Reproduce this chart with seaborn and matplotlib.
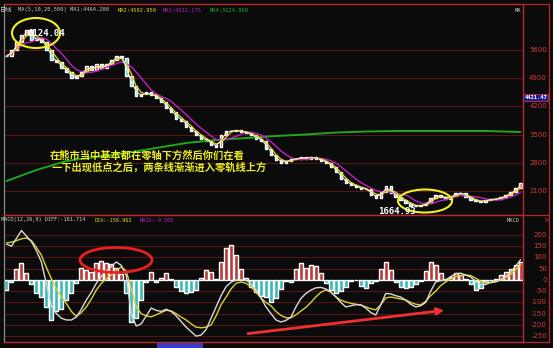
import numpy as np
import pandas as pd
import matplotlib
matplotlib.use("Agg")
import matplotlib.pyplot as plt
import matplotlib.transforms as mtransforms
from matplotlib.patches import Ellipse, FancyArrowPatch, Rectangle
from matplotlib.lines import Line2D
import seaborn as sns

# ---------------- data ----------------
close = [5450, 5600, 5800, 5970, 6100, 5850, 5900, 5800, 5600, 5350,
         5300, 5150, 5050, 4900, 4950, 5050, 5200, 5100, 5250, 5150,
         5250, 5350, 5450, 5400, 4950, 4700, 4450, 4500, 4550, 4480,
         4420, 4300, 4150, 4050, 3900, 3850, 3700, 3600, 3480, 3400,
         3350, 3250, 3200, 3500, 3600, 3580, 3620, 3560, 3540, 3480,
         3400, 3350, 3150, 3000, 2870, 2800, 2850, 2900, 2900, 2950,
         2900, 2950, 2900, 2850, 2800, 2700, 2570, 2400, 2300, 2250,
         2200, 2150, 2150, 2000, 1930, 2080, 2220, 2050, 1950, 1880,
         1800, 1730, 1720, 1750, 1800, 1930, 2000, 1950, 1900, 1980,
         2050, 2050, 1950, 1880, 1850, 1830, 1880, 1900, 1900, 1950,
         2000, 2070, 2170, 2300]

ma500_idx = [0, 6, 12, 18, 24, 30, 36, 42, 48, 54, 60, 66, 72, 78, 84, 90, 96, 103]
ma500_val = [2349, 2622, 2845, 2944, 3043, 3168, 3292, 3366, 3416, 3466,
             3503, 3552, 3577, 3590, 3590, 3590, 3590, 3565]

diff = [160, 150, 185, 220, 195, 170, 130, 80, -20, -115,
        -150, -170, -178, -178, -165, -130, -89, -55, -15, 15,
        40, 60, 80, 65, 20, -150, -205, -195, -160, -125,
        -135, -140, -130, -140, -160, -185, -210, -230, -250, -245,
        -220, -170, -120, -70, -30, -10, 0, 0, 0, -20,
        -45, -80, -120, -150, -178, -187, -180, -165, -120, -82,
        -60, -45, -35, -33, -40, -53, -75, -100, -120, -115,
        -110, -111, -125, -145, -156, -110, -60, -62, -70, -76,
        -90, -108, -120, -115, -100, -50, -9, -3, 0, 15,
        28, 30, 22, 13, -5, -22, -20, -12, -9, 0,
        15, 35, 60, 90]

dea = [165, 168, 175, 183, 187, 175, 145, 110, 55, 5,
       -40, -75, -105, -140, -162, -145, -120, -85, -45, -15,
       5, 22, 42, 58, 40, -40, -120, -150, -160, -164,
       -155, -145, -135, -138, -150, -165, -178, -195, -210, -213,
       -210, -200, -160, -110, -76, -40, -15, -9, -15, -31,
       -55, -80, -100, -115, -140, -158, -168, -168, -155, -138,
       -122, -100, -75, -55, -44, -55, -75, -90, -98, -104,
       -108, -111, -120, -128, -133, -110, -80, -76, -80, -85,
       -89, -100, -108, -111, -95, -70, -50, -25, -9, 5,
       15, 20, 22, 20, 8, -5, -13, -10, -5, 0,
       10, 25, 45, 67]

macd_hist = [-45, -10, 50, 75, 30, -20, -60, -75, -120, -178,
             -140, -130, -90, -60, -15, 55, 45, 35, 75, 84,
             75, 70, 55, 25, -60, -187, -170, -90, -10, 36,
             -8, 10, 30, 5, -30, -50, -58, -55, -45, 10,
             44, 35, 5, 80, 140, 155, 110, 50, 10, -30,
             -55, -70, -75, -98, -80, -40, -5, -10, 50, 75,
             55, 67, 60, 30, -15, -45, -58, -50, -30, -5,
             -2, -25, -35, -15, -5, 50, 80, 45, -10, -30,
             -36, -30, -20, -5, 40, 80, 65, 30, 5, 15,
             31, 20, 5, -20, -45, -35, -10, 0, 5, 20,
             35, 50, 65, 80]

price_ticks = [2100, 2800, 3500, 4200, 4900, 5600]
macd_ticks = [200, 150, 100, 50, 0, -50, -100, -150, -200, -250]

# ---------------- style ----------------
BG = "#0b0b0b"
sns.set_style("dark", {"axes.facecolor": BG, "figure.facecolor": BG})
plt.rcParams["font.family"] = ["DejaVu Sans", "Noto Sans CJK SC"]

W, H = 553, 348
fig = plt.figure(figsize=(W / 100, H / 100), dpi=100)
fig.patch.set_facecolor(BG)

def fx(px):
    return px / W

def fy(py):
    return 1 - py / H

LEFT, RIGHT = 4, 523
ax = fig.add_axes([fx(LEFT), fy(215), (RIGHT - LEFT) / W, (215 - 4) / H])
axm = fig.add_axes([fx(LEFT), fy(342), (RIGHT - LEFT) / W, (342 - 215) / H])

n = len(close)
idx = np.arange(n)
df = pd.DataFrame({"i": idx, "close": close})
df["open"] = df["close"].shift(1).fillna(df["close"])
df["ma5"] = df["close"].rolling(2, min_periods=1).mean()
df["ma10"] = df["close"].rolling(3, min_periods=1).mean()
df["ma20"] = df["close"].rolling(6, min_periods=1).mean()

GRID = "#5c1616"
BORDER = "#b82828"

for a in (ax, axm):
    a.set_facecolor(BG)
    a.set_xlim(-0.5, n - 0.5)
    a.set_xticks([])
    a.set_yticks([])
    a.grid(False)
    for s in a.spines.values():
        s.set_color(BORDER)
        s.set_linewidth(0.9)
    a.spines["left"].set_color("#8a8a8a")

# ---------------- price panel ----------------
ax.set_ylim(1505, 6742)
for t in price_ticks:
    ax.axhline(t, color=GRID, lw=0.7, zorder=0)

up = df["close"] >= df["open"]
ax.bar(df["i"][up], (df["close"] - df["open"])[up], bottom=df["open"][up],
       width=0.5, color="#ff3a3a", zorder=2)
ax.bar(df["i"][~up], (df["close"] - df["open"])[~up], bottom=df["open"][~up],
       width=0.5, color="#48d8d8", zorder=2)

sns.lineplot(x=ma500_idx, y=ma500_val, ax=ax, color="#1fa51f", lw=1.4, zorder=3)
sns.lineplot(data=df, x="i", y="ma20", ax=ax, color="#c020c8", lw=1.0, zorder=4)
sns.lineplot(data=df, x="i", y="ma10", ax=ax, color="#e6d619", lw=0.9, zorder=5)
sns.lineplot(data=df, x="i", y="ma5", ax=ax, color="#e8e8e8", lw=0.8, zorder=6)
ax.set_xlabel("")
ax.set_ylabel("")

# ---------------- MACD panel ----------------
axm.set_ylim(-276, 289)
for t in macd_ticks:
    axm.axhline(t, color=GRID, lw=0.7, zorder=0)
hist_col = ["#b83a3a" if v > 0 else "#3cb8b8" for v in macd_hist]
axm.bar(idx, macd_hist, width=0.8, color=hist_col, zorder=2)
sns.lineplot(x=idx, y=dea, ax=axm, color="#d8d030", lw=1.0, zorder=4)
sns.lineplot(x=idx, y=diff, ax=axm, color="#d8d8d8", lw=1.0, zorder=5)
axm.set_xlabel("")
axm.set_ylabel("")

# ---------------- right scale labels ----------------
LABC = "#d03a3a"
tr_p = mtransforms.blended_transform_factory(fig.transFigure, ax.transData)
for t in price_ticks:
    fig.text(fx(547), t, str(t), transform=tr_p, ha="right", va="center",
             fontsize=5, color=LABC)
fig.text(fx(524.5), 4421.47, "4421.47", transform=tr_p, ha="left", va="center",
         fontsize=4.0, color="white", family="DejaVu Sans Mono", weight="bold",
         bbox=dict(boxstyle="square,pad=0.2", facecolor="#1c1c9a",
                   edgecolor="#d03030", lw=0.6), zorder=10)
tr_m = mtransforms.blended_transform_factory(fig.transFigure, axm.transData)
for t in macd_ticks:
    fig.text(fx(547), t, str(t), transform=tr_m, ha="right", va="center",
             fontsize=5, color=LABC)

# frame lines
for (x0, y0, x1, y1) in [(LEFT, 4, 549, 4), (LEFT, 215, 549, 215),
                         (LEFT, 342, 549, 342), (549, 4, 549, 342),
                         (RIGHT, 4, RIGHT, 342)]:
    fig.add_artist(Line2D([fx(x0), fx(x1)], [fy(y0), fy(y1)],
                          color=BORDER, lw=0.9))

# ---------------- header texts ----------------
mono = "DejaVu Sans Mono"
fig.text(fx(0), fy(10), "日线", fontsize=4.5, color="#d0d0d0",
         family=["Noto Sans CJK SC"], va="center")
fig.text(fx(18), fy(10), "MA(5,10,20,500) MA1:4464.200", fontsize=3.9,
         color="#c8c8c8", family=mono, va="center")
fig.text(fx(118), fy(10), "MA2:4502.950", fontsize=3.9, color="#e0d020",
         family=mono, va="center")
fig.text(fx(163), fy(10), "MA3:4522.175", fontsize=3.9, color="#c020c8",
         family=mono, va="center")
fig.text(fx(210), fy(10), "MA4:3124.960", fontsize=3.9, color="#20b020",
         family=mono, va="center")
fig.text(fx(515), fy(10), "MA", fontsize=3.9, color="#c8c8c8",
         family=mono, va="center")

fig.text(fx(1), fy(220), "MACD(12,26,9) DIFF:-161.714", fontsize=3.8,
         color="#d0d0d0", family=mono, va="center")
fig.text(fx(95), fy(220), "DEA:-156.962", fontsize=3.8, color="#e0d020",
         family=mono, va="center")
fig.text(fx(140), fy(220), "MACD:-9.505", fontsize=3.8, color="#c020c8",
         family=mono, va="center")
fig.text(fx(507), fy(220), "MACD", fontsize=3.9, color="#c8c8c8",
         family=mono, va="center")
fig.text(fx(543), fy(220), "×", fontsize=5, color=LABC, va="center")

# ---------------- annotations ----------------
fig.text(fx(27), fy(33), "6124.04", fontsize=6.5, color="white",
         family=mono, weight="bold", va="center", zorder=8)
fig.add_artist(Ellipse((fx(36), fy(33)), 48 / W, 30 / H, fill=False,
                       edgecolor="#f0f020", lw=1.5))
fig.text(fx(378), fy(212), "1664.93", fontsize=6.5, color="white",
         family=mono, weight="bold", va="center", zorder=8)
fig.add_artist(Ellipse((fx(425), fy(201)), 54 / W, 23 / H, fill=False,
                       edgecolor="#f0f020", lw=1.5))

cjk = ["Noto Sans CJK SC", "DejaVu Sans"]
fig.text(fx(50), fy(155), "在熊市当中基本都在零轴下方然后你们在看", fontsize=7.4,
         color="#ecec20", family=cjk, weight="bold", va="center", zorder=9)
fig.text(fx(52), fy(167), "一下出现低点之后，两条线渐渐进入零轨线上方", fontsize=7.4,
         color="#ecec20", family=cjk, weight="bold", va="center", zorder=9)

fig.add_artist(Ellipse((fx(116), fy(260)), 72 / W, 25 / H, fill=False,
                       edgecolor="#e82020", lw=2))
fig.add_artist(FancyArrowPatch((fx(245), fy(334)), (fx(447), fy(310)),
                               transform=fig.transFigure,
                               arrowstyle="-|>", mutation_scale=10,
                               color="#f03030", lw=2))

fig.add_artist(Rectangle((fx(157), fy(348)), 46 / W, 5 / H,
                         transform=fig.transFigure, facecolor="#3a3ac8",
                         edgecolor="none"))

fig.savefig("out.png", dpi=100, facecolor=BG)
